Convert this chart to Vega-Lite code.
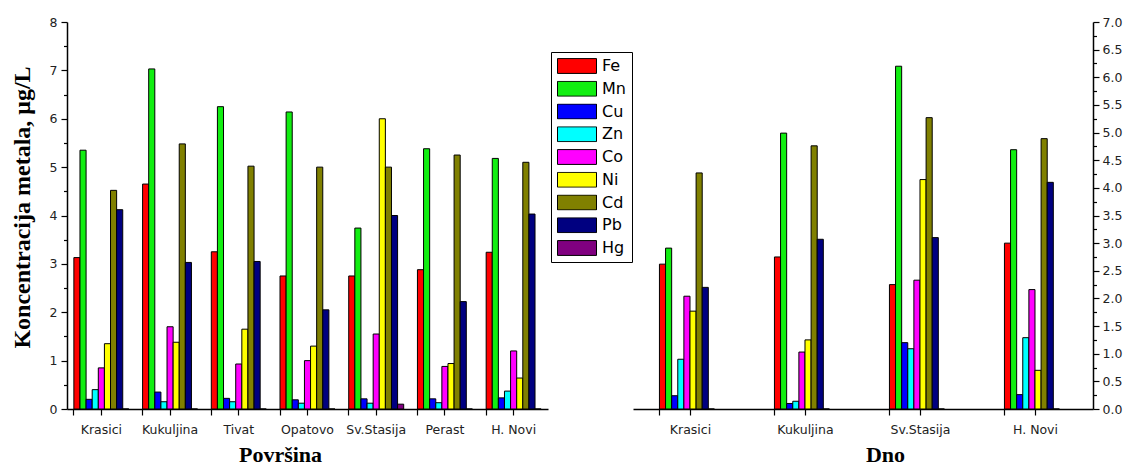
{
  "$schema": "https://vega.github.io/schema/vega-lite/v6.json",
  "background": "white",
  "padding": {"left": 10, "top": 16, "right": 2, "bottom": 2},
  "spacing": 0,
  "config": {
    "view": {"stroke": null},
    "axis": {
      "grid": false,
      "domainColor": "black",
      "domainWidth": 1.5,
      "tickColor": "black",
      "tickWidth": 1.2,
      "labelFont": "DejaVu Sans",
      "labelFontSize": 12.5,
      "labelColor": "#222",
      "titleFont": "Liberation Serif",
      "titleFontWeight": "bold",
      "titleFontSize": 22,
      "titleColor": "black"
    }
  },
  "datasets": {
    "pov": [
      {"site": "Krasici", "metal": "Fe", "value": 3.13}, {"site": "Krasici", "metal": "Mn", "value": 5.35}, {"site": "Krasici", "metal": "Cu", "value": 0.2}, {"site": "Krasici", "metal": "Zn", "value": 0.4}, {"site": "Krasici", "metal": "Co", "value": 0.85}, {"site": "Krasici", "metal": "Ni", "value": 1.35}, {"site": "Krasici", "metal": "Cd", "value": 4.52}, {"site": "Krasici", "metal": "Pb", "value": 4.12}, {"site": "Krasici", "metal": "Hg", "value": 0},
      {"site": "Kukuljina", "metal": "Fe", "value": 4.65}, {"site": "Kukuljina", "metal": "Mn", "value": 7.03}, {"site": "Kukuljina", "metal": "Cu", "value": 0.35}, {"site": "Kukuljina", "metal": "Zn", "value": 0.15}, {"site": "Kukuljina", "metal": "Co", "value": 1.7}, {"site": "Kukuljina", "metal": "Ni", "value": 1.38}, {"site": "Kukuljina", "metal": "Cd", "value": 5.48}, {"site": "Kukuljina", "metal": "Pb", "value": 3.03}, {"site": "Kukuljina", "metal": "Hg", "value": 0},
      {"site": "Tivat", "metal": "Fe", "value": 3.25}, {"site": "Tivat", "metal": "Mn", "value": 6.25}, {"site": "Tivat", "metal": "Cu", "value": 0.22}, {"site": "Tivat", "metal": "Zn", "value": 0.15}, {"site": "Tivat", "metal": "Co", "value": 0.93}, {"site": "Tivat", "metal": "Ni", "value": 1.65}, {"site": "Tivat", "metal": "Cd", "value": 5.02}, {"site": "Tivat", "metal": "Pb", "value": 3.05}, {"site": "Tivat", "metal": "Hg", "value": 0},
      {"site": "Opatovo", "metal": "Fe", "value": 2.75}, {"site": "Opatovo", "metal": "Mn", "value": 6.14}, {"site": "Opatovo", "metal": "Cu", "value": 0.19}, {"site": "Opatovo", "metal": "Zn", "value": 0.12}, {"site": "Opatovo", "metal": "Co", "value": 1.0}, {"site": "Opatovo", "metal": "Ni", "value": 1.3}, {"site": "Opatovo", "metal": "Cd", "value": 5.0}, {"site": "Opatovo", "metal": "Pb", "value": 2.05}, {"site": "Opatovo", "metal": "Hg", "value": 0},
      {"site": "Sv.Stasija", "metal": "Fe", "value": 2.75}, {"site": "Sv.Stasija", "metal": "Mn", "value": 3.74}, {"site": "Sv.Stasija", "metal": "Cu", "value": 0.21}, {"site": "Sv.Stasija", "metal": "Zn", "value": 0.12}, {"site": "Sv.Stasija", "metal": "Co", "value": 1.55}, {"site": "Sv.Stasija", "metal": "Ni", "value": 6.0}, {"site": "Sv.Stasija", "metal": "Cd", "value": 5.0}, {"site": "Sv.Stasija", "metal": "Pb", "value": 4.0}, {"site": "Sv.Stasija", "metal": "Hg", "value": 0.1},
      {"site": "Perast", "metal": "Fe", "value": 2.88}, {"site": "Perast", "metal": "Mn", "value": 5.38}, {"site": "Perast", "metal": "Cu", "value": 0.21}, {"site": "Perast", "metal": "Zn", "value": 0.13}, {"site": "Perast", "metal": "Co", "value": 0.88}, {"site": "Perast", "metal": "Ni", "value": 0.94}, {"site": "Perast", "metal": "Cd", "value": 5.25}, {"site": "Perast", "metal": "Pb", "value": 2.22}, {"site": "Perast", "metal": "Hg", "value": 0},
      {"site": "H. Novi", "metal": "Fe", "value": 3.24}, {"site": "H. Novi", "metal": "Mn", "value": 5.18}, {"site": "H. Novi", "metal": "Cu", "value": 0.23}, {"site": "H. Novi", "metal": "Zn", "value": 0.37}, {"site": "H. Novi", "metal": "Co", "value": 1.2}, {"site": "H. Novi", "metal": "Ni", "value": 0.64}, {"site": "H. Novi", "metal": "Cd", "value": 5.1}, {"site": "H. Novi", "metal": "Pb", "value": 4.03}, {"site": "H. Novi", "metal": "Hg", "value": 0}
    ],
    "dno": [
      {"site": "Krasici", "metal": "Fe", "value": 2.62}, {"site": "Krasici", "metal": "Mn", "value": 2.91}, {"site": "Krasici", "metal": "Cu", "value": 0.24}, {"site": "Krasici", "metal": "Zn", "value": 0.9}, {"site": "Krasici", "metal": "Co", "value": 2.04}, {"site": "Krasici", "metal": "Ni", "value": 1.77}, {"site": "Krasici", "metal": "Cd", "value": 4.27}, {"site": "Krasici", "metal": "Pb", "value": 2.2}, {"site": "Krasici", "metal": "Hg", "value": 0},
      {"site": "Kukuljina", "metal": "Fe", "value": 2.75}, {"site": "Kukuljina", "metal": "Mn", "value": 4.99}, {"site": "Kukuljina", "metal": "Cu", "value": 0.1}, {"site": "Kukuljina", "metal": "Zn", "value": 0.14}, {"site": "Kukuljina", "metal": "Co", "value": 1.03}, {"site": "Kukuljina", "metal": "Ni", "value": 1.25}, {"site": "Kukuljina", "metal": "Cd", "value": 4.76}, {"site": "Kukuljina", "metal": "Pb", "value": 3.07}, {"site": "Kukuljina", "metal": "Hg", "value": 0},
      {"site": "Sv.Stasija", "metal": "Fe", "value": 2.25}, {"site": "Sv.Stasija", "metal": "Mn", "value": 6.2}, {"site": "Sv.Stasija", "metal": "Cu", "value": 1.2}, {"site": "Sv.Stasija", "metal": "Zn", "value": 1.09}, {"site": "Sv.Stasija", "metal": "Co", "value": 2.33}, {"site": "Sv.Stasija", "metal": "Ni", "value": 4.15}, {"site": "Sv.Stasija", "metal": "Cd", "value": 5.27}, {"site": "Sv.Stasija", "metal": "Pb", "value": 3.1}, {"site": "Sv.Stasija", "metal": "Hg", "value": 0},
      {"site": "H. Novi", "metal": "Fe", "value": 3.0}, {"site": "H. Novi", "metal": "Mn", "value": 4.69}, {"site": "H. Novi", "metal": "Cu", "value": 0.26}, {"site": "H. Novi", "metal": "Zn", "value": 1.29}, {"site": "H. Novi", "metal": "Co", "value": 2.16}, {"site": "H. Novi", "metal": "Ni", "value": 0.7}, {"site": "H. Novi", "metal": "Cd", "value": 4.89}, {"site": "H. Novi", "metal": "Pb", "value": 4.1}, {"site": "H. Novi", "metal": "Hg", "value": 0}
    ]
  },
  "hconcat": [
    {
      "width": 481,
      "height": 387,
      "data": {"name": "pov"},
      "layer": [
        {
          "mark": {"type": "bar", "stroke": "black", "strokeWidth": 1},
          "encoding": {
            "x": {
              "field": "site", "type": "nominal",
              "scale": {"type": "band", "domain": ["Krasici", "Kukuljina", "Tivat", "Opatovo", "Sv.Stasija", "Perast", "H. Novi"], "paddingInner": 0.2, "paddingOuter": 0.1},
              "axis": {"orient": "bottom", "title": "Površina", "titleX": 213, "labelAngle": 0, "tickSize": 6, "labelPadding": 8, "titlePadding": 9}
            },
            "xOffset": {"field": "metal", "type": "nominal", "scale": {"domain": ["Fe", "Mn", "Cu", "Zn", "Co", "Ni", "Cd", "Pb", "Hg"]}},
            "y": {
              "field": "value", "type": "quantitative",
              "scale": {"domain": [0, 8]},
              "axis": {"orient": "left", "values": [0, 1, 2, 3, 4, 5, 6, 7, 8], "title": "Koncentracija metala, μg/L", "titleFontSize": 24, "titleY": 185, "tickSize": 6, "labelPadding": 4, "titlePadding": 15}
            },
            "color": {
              "field": "metal", "type": "nominal",
              "scale": {"domain": ["Fe", "Mn", "Cu", "Zn", "Co", "Ni", "Cd", "Pb", "Hg"], "range": ["#ff0000", "#11ee11", "#0000ff", "#00ffff", "#ff00ff", "#ffff00", "#808000", "#000080", "#800080"]},
              "legend": {
                "orient": "none", "legendX": 484, "legendY": 30, "direction": "vertical",
                "title": null, "strokeColor": "black", "padding": 6,
                "symbolType": "M-1,-0.38H1V0.38H-1Z", "symbolSize": 1521,
                "symbolStrokeColor": "black", "symbolStrokeWidth": 1, "symbolOpacity": 1,
                "clipHeight": 16, "rowPadding": 6.75,
                "labelFont": "DejaVu Sans", "labelFontSize": 16, "labelColor": "black", "labelOffset": 5
              }
            }
          }
        },
        {
          "mark": {"type": "point", "opacity": 0},
          "encoding": {
            "x": {
              "field": "site", "type": "nominal",
              "scale": {"type": "band", "domain": ["Krasici", "Kukuljina", "Tivat", "Opatovo", "Sv.Stasija", "Perast", "H. Novi"], "paddingInner": 0.2, "paddingOuter": 0.1},
              "axis": {"orient": "bottom", "bandPosition": 0, "labels": false, "domain": false, "title": null, "tickSize": 6}
            },
            "y": {
              "datum": 0, "type": "quantitative",
              "scale": {"domain": [0, 8]},
              "axis": {"orient": "left", "values": [0.5, 1.5, 2.5, 3.5, 4.5, 5.5, 6.5, 7.5], "labels": false, "domain": false, "title": null, "tickSize": 3.5}
            }
          }
        }
      ],
      "resolve": {"scale": {"x": "independent", "y": "independent"}, "axis": {"x": "independent", "y": "independent"}}
    },
    {
      "width": 460,
      "height": 387,
      "data": {"name": "dno"},
      "layer": [
        {
          "mark": {"type": "bar", "stroke": "black", "strokeWidth": 1},
          "encoding": {
            "x": {
              "field": "site", "type": "nominal",
              "scale": {"type": "band", "domain": ["Krasici", "Kukuljina", "Sv.Stasija", "H. Novi"], "paddingInner": 0.46, "paddingOuter": 0.23},
              "axis": {"orient": "bottom", "title": "Dno", "titleX": 252, "labelAngle": 0, "tickSize": 6, "labelPadding": 8, "titlePadding": 9}
            },
            "xOffset": {"field": "metal", "type": "nominal", "scale": {"domain": ["Fe", "Mn", "Cu", "Zn", "Co", "Ni", "Cd", "Pb", "Hg"]}},
            "y": {
              "field": "value", "type": "quantitative",
              "scale": {"domain": [0, 7]},
              "axis": {"orient": "right", "values": [0, 0.5, 1, 1.5, 2, 2.5, 3, 3.5, 4, 4.5, 5, 5.5, 6, 6.5, 7], "format": ".1f", "title": null, "tickSize": 6, "labelPadding": 3}
            },
            "color": {
              "field": "metal", "type": "nominal",
              "scale": {"domain": ["Fe", "Mn", "Cu", "Zn", "Co", "Ni", "Cd", "Pb", "Hg"], "range": ["#ff0000", "#11ee11", "#0000ff", "#00ffff", "#ff00ff", "#ffff00", "#808000", "#000080", "#800080"]},
              "legend": null
            }
          }
        },
        {
          "mark": {"type": "point", "opacity": 0},
          "encoding": {
            "x": {
              "field": "site", "type": "nominal",
              "scale": {"type": "band", "domain": ["Krasici", "Kukuljina", "Sv.Stasija", "H. Novi"], "paddingInner": 0.46, "paddingOuter": 0.23},
              "axis": {"orient": "bottom", "bandPosition": 0, "labels": false, "domain": false, "title": null, "tickSize": 6}
            },
            "y": {
              "datum": 0, "type": "quantitative",
              "scale": {"domain": [0, 7]},
              "axis": {"orient": "right", "values": [0.25, 0.75, 1.25, 1.75, 2.25, 2.75, 3.25, 3.75, 4.25, 4.75, 5.25, 5.75, 6.25, 6.75], "labels": false, "domain": false, "title": null, "tickSize": 3.5}
            }
          }
        }
      ],
      "resolve": {"scale": {"x": "independent", "y": "independent"}, "axis": {"x": "independent", "y": "independent"}}
    }
  ],
  "resolve": {"scale": {"color": "independent"}, "legend": {"color": "independent"}}
}
